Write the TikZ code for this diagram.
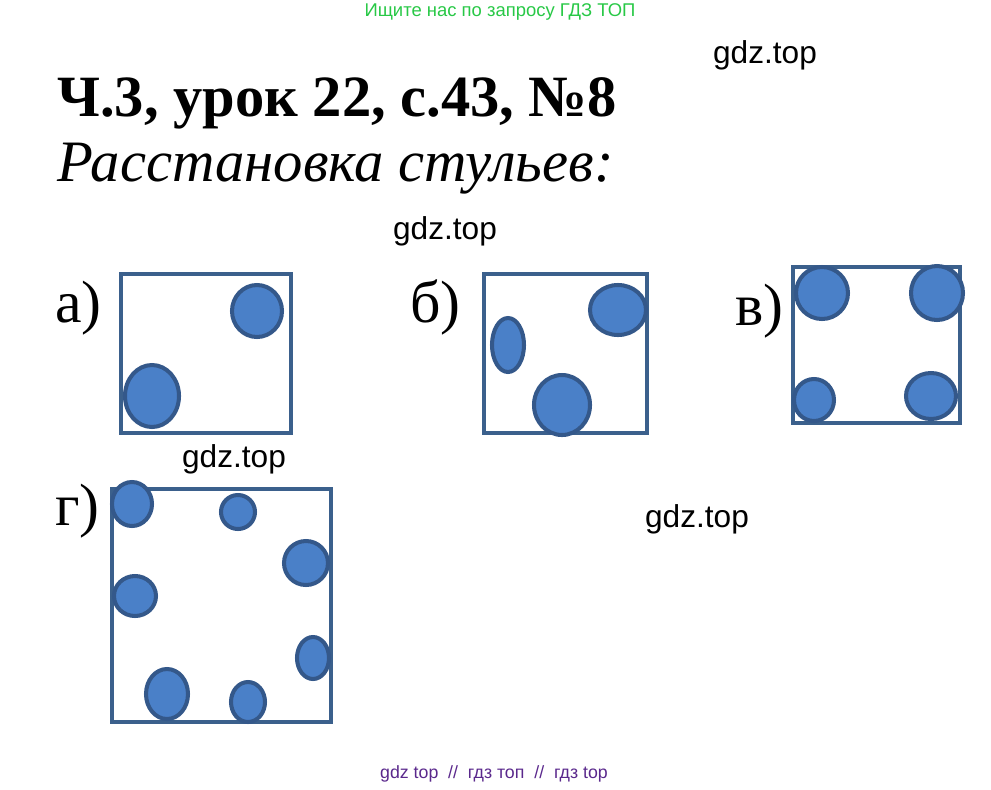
\documentclass[tikz,border=0pt]{standalone}
\usepackage{fontspec}
\setmainfont{Liberation Serif}
\newfontfamily\wmfont{Liberation Sans}
\definecolor{framecol}{RGB}{59,96,140}
\definecolor{chairfill}{RGB}{74,128,200}
\definecolor{chairline}{RGB}{52,88,138}
\definecolor{topgreen}{RGB}{40,200,70}
\definecolor{footviolet}{RGB}{90,40,140}
\tikzstyle{room}=[draw=framecol, line width=2.8pt]
\tikzstyle{chair}=[draw=chairline, fill=chairfill, line width=2.3pt]
\tikzstyle{wmark}=[font=\wmfont\fontsize{18}{20}\selectfont, inner sep=0pt]
\tikzstyle{letter}=[font=\fontsize{34}{36}\selectfont, inner sep=0pt, anchor=base west]

\begin{document}
\begin{tikzpicture}[x=0.02cm, y=-0.02cm]
    \useasboundingbox (0,0) rectangle (991,789);

    \node[font=\wmfont\fontsize{10.5}{12}\selectfont, text=topgreen, inner sep=0pt] (top) at (500,12) {Ищите нас по запросу ГДЗ ТОП};
    \node[font=\fontsize{33.3}{38}\selectfont\bfseries, inner sep=0pt, anchor=base west] (title) at (57,116) {Ч.3, урок 22, с.43, №8};
    \node[font=\fontsize{33.4}{38}\selectfont\itshape, inner sep=0pt, anchor=base west] (sub) at (57,181) {Расстановка стульев:};

    \node[wmark] (w1) at (765,55) {gdz.top};
    \node[wmark] (w2) at (445,231) {gdz.top};
    \node[wmark] (w3) at (234,459) {gdz.top};
    \node[wmark] (w4) at (697,519) {gdz.top};

    \node[letter] (la) at (55,322) {а)};
    \node[letter] (lb) at (410,322) {б)};
    \node[letter] (lv) at (735,325) {в)};
    \node[letter] (lg) at (55,525) {г)};

    % rooms
    \draw[room] (121,274) rectangle (291,433);
    \draw[room] (484,274) rectangle (647,433);
    \draw[room] (793,267) rectangle (960,423);
    \draw[room] (112,489) rectangle (331,722);

    % chairs
    \foreach \cx/\cy/\rx/\ry in {257/311/25/26, 152/396/27/31,
      618/310/28/25, 508/345/16/27, 562/405/28/30,
      822/293/26/26, 937/293/26/27, 814/400/20/21, 931/396/25/23,
      132/504/20/22, 238/512/17/17, 306/563/22/22, 135/596/21/20,
      313/658/16/21, 167/694/21/25, 248/702/17/20}
      \draw[chair] (\cx,\cy) ellipse [x radius=\rx, y radius=\ry];

    \node[font=\wmfont\fontsize{10.1}{12}\selectfont, text=footviolet, inner sep=0pt] (foot) at (494,774) {gdz top \ // \ гдз топ \ // \ гдз top};
\end{tikzpicture}
\end{document}
